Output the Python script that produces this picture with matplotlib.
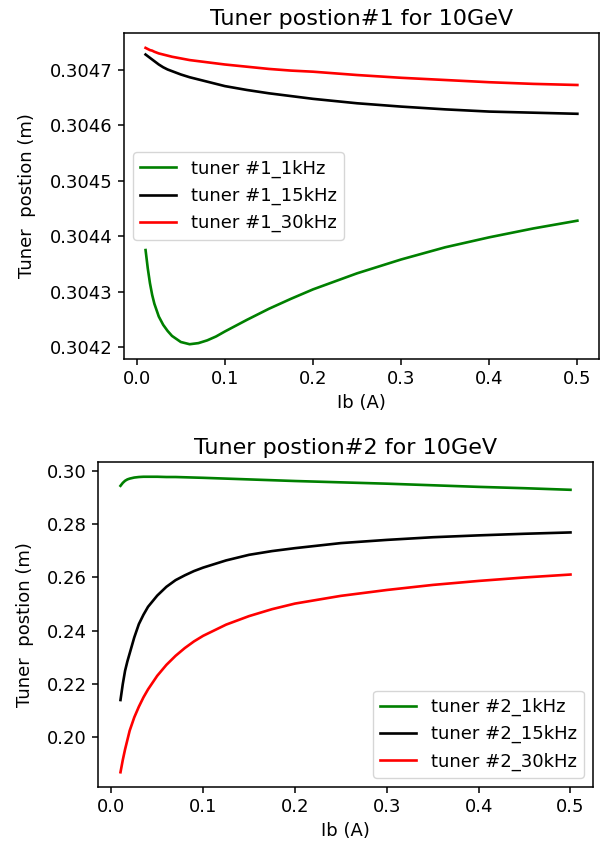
import matplotlib
matplotlib.use("Agg")
import matplotlib.pyplot as plt

# beam current Ib (A)
ib_1 = [0.01, 0.0125, 0.015, 0.0175, 0.02, 0.025, 0.03, 0.035, 0.04, 0.05, 0.06, 0.07,
        0.08, 0.09, 0.1, 0.125, 0.15, 0.175, 0.2, 0.25, 0.3, 0.35, 0.4, 0.45, 0.5]

# tuner #1 positions (m)
t1_1khz = [0.304375, 0.304342, 0.304315, 0.304294, 0.304278, 0.304255, 0.304240,
           0.304229, 0.304220, 0.304209, 0.304205, 0.304207, 0.304212, 0.304219,
           0.304228, 0.304249, 0.304269, 0.304287, 0.304304, 0.304333, 0.304358,
           0.304380, 0.304398, 0.304414, 0.304428]
t1_15khz = [0.304728, 0.304725, 0.304722, 0.304719, 0.304716, 0.304710, 0.304705,
            0.304701, 0.304698, 0.304692, 0.304687, 0.304683, 0.304679, 0.304675,
            0.304671, 0.304664, 0.304658, 0.304653, 0.304648, 0.304640, 0.304634,
            0.304629, 0.304625, 0.304623, 0.304621]
t1_30khz = [0.304740, 0.304738, 0.304736, 0.304735, 0.304733, 0.304730, 0.304728,
            0.304726, 0.304724, 0.304721, 0.304718, 0.304716, 0.304714, 0.304712,
            0.304710, 0.304706, 0.304702, 0.304699, 0.304697, 0.304691, 0.304686,
            0.304682, 0.304678, 0.304675, 0.304673]

ib_2 = [0.01, 0.0125, 0.015, 0.0175, 0.02, 0.025, 0.03, 0.035, 0.04, 0.05, 0.06, 0.07,
        0.08, 0.09, 0.1, 0.125, 0.15, 0.175, 0.2, 0.25, 0.3, 0.35, 0.4, 0.45, 0.5]

# tuner #2 positions (m)
t2_1khz = [0.2944, 0.2955, 0.2963, 0.2968, 0.2971, 0.2975, 0.2977, 0.2978, 0.2978,
           0.2978, 0.2977, 0.2977, 0.2976, 0.2975, 0.2974, 0.2971, 0.2968, 0.2965,
           0.2962, 0.2957, 0.2952, 0.2946, 0.2940, 0.2935, 0.2929]
t2_15khz = [0.2140, 0.2200, 0.2250, 0.2285, 0.2315, 0.2375, 0.2425, 0.2460, 0.2490,
            0.2532, 0.2565, 0.2590, 0.2608, 0.2624, 0.2637, 0.2664, 0.2685, 0.2699,
            0.2710, 0.2729, 0.2741, 0.2751, 0.2758, 0.2764, 0.2769]
t2_30khz = [0.1869, 0.1915, 0.1955, 0.1990, 0.2025, 0.2075, 0.2115, 0.2150, 0.2180,
            0.2231, 0.2272, 0.2306, 0.2335, 0.2360, 0.2381, 0.2423, 0.2455, 0.2481,
            0.2502, 0.2531, 0.2553, 0.2572, 0.2587, 0.2600, 0.2611]

plt.rcParams['font.size'] = 13
plt.rcParams['lines.linewidth'] = 1.9
plt.rcParams['axes.linewidth'] = 1.1
plt.rcParams['xtick.major.size'] = 4.5
plt.rcParams['ytick.major.size'] = 4.5
plt.rcParams['xtick.major.width'] = 1.1
plt.rcParams['ytick.major.width'] = 1.1

fig = plt.figure(figsize=(6.03, 8.5), dpi=100)

ax1 = fig.add_axes([0.2056, 0.5776, 0.7877, 0.3835])
ax1.plot(ib_1, t1_1khz, color='green', label='tuner #1_1kHz')
ax1.plot(ib_1, t1_15khz, color='black', label='tuner #1_15kHz')
ax1.plot(ib_1, t1_30khz, color='red', label='tuner #1_30kHz')
ax1.set_title('Tuner postion#1 for 10GeV', fontsize=16)
ax1.set_xlabel('Ib (A)')
ax1.set_ylabel('Tuner  postion (m)', labelpad=10)
ax1.ticklabel_format(axis='y', useOffset=False)
ax1.legend(loc='center left')

ax2 = fig.add_axes([0.1625, 0.0741, 0.8209, 0.3824])
ax2.plot(ib_2, t2_1khz, color='green', label='tuner #2_1kHz')
ax2.plot(ib_2, t2_15khz, color='black', label='tuner #2_15kHz')
ax2.plot(ib_2, t2_30khz, color='red', label='tuner #2_30kHz')
ax2.set_title('Tuner postion#2 for 10GeV', fontsize=16)
ax2.set_xlabel('Ib (A)')
ax2.set_ylabel('Tuner  postion (m)', labelpad=9)
ax2.legend(loc='lower right')

fig.savefig('out.png', dpi=100)
